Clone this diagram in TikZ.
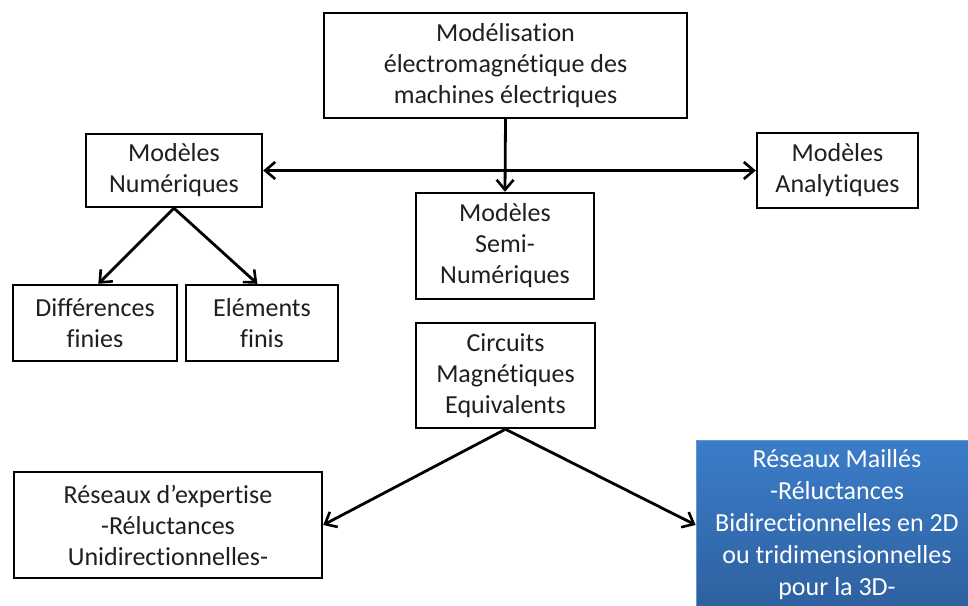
\documentclass[tikz,border=0pt]{standalone}
\usepackage{fontspec}
\setmainfont{Carlito}[Ligatures={NoCommon}]
\usetikzlibrary{arrows.meta,calc}
\definecolor{bluetop}{HTML}{3B7DC9}
\definecolor{bluebot}{HTML}{2E609F}
\tikzset{
  box/.style={draw=black, line width=2.4pt, fill=white, inner sep=0pt, align=center,
    font=\fontsize{26}{31}\selectfont, text=black!88},
  bluebox/.style={inner sep=0pt, align=center, top color=bluetop, bottom color=bluebot,
    draw=bluetop!80!white, line width=0.8pt,
    font=\fontsize{26}{32}\selectfont, text=white},
  conn/.style={line width=2.8pt, -{Straight Barb[length=10pt,width=17pt,line width=2.6pt]}},
  conn2/.style={line width=2.8pt, {Straight Barb[length=10pt,width=17pt,line width=2.6pt]}-{Straight Barb[length=10pt,width=17pt,line width=2.6pt]}}
}
\begin{document}
\begin{tikzpicture}[x=1pt,y=-1pt]
\useasboundingbox (0,0) rectangle (968,605);
\clip (0,0) rectangle (968,605);
\node[box, minimum width=363pt, minimum height=105pt] (top) at (505.5,65.5)
  {Modélisation\\électromagnétique des\\machines électriques};
\node[box, minimum width=176pt, minimum height=73pt] (num) at (174,170.5)
  {Modèles\\Numériques};
\node[box, minimum width=161pt, minimum height=75pt] (ana) at (837.5,170.5)
  {Modèles\\Analytiques};
\node[box, minimum width=178pt, minimum height=106pt] (semi) at (505,246)
  {Modèles\\Semi-\\Numériques};
\node[box, minimum width=164pt, minimum height=76pt] (diff) at (95,323)
  {Différences\\finies};
\node[box, minimum width=152pt, minimum height=76pt] (ele) at (262,323)
  {Eléments\\finis};
\node[box, minimum width=179pt, minimum height=105pt] (circ) at (505.5,375.5)
  {Circuits\\Magnétiques\\Equivalents};
\node[box, minimum width=308pt, minimum height=106pt] (exp) at (168,525)
  {Réseaux d’expertise\\-Réluctances\\Unidirectionnelles-};
\node[bluebox, minimum width=282pt, minimum height=170pt] (mail) at (837,525)
  {Réseaux Maillés\\-Réluctances\\Bidirectionnelles en 2D\\ou tridimensionnelles\\pour la 3D-};
\draw[conn] (top.south) -- (semi.north);
\draw[conn2] (num.east) -- (ana.west);
\draw[conn] (num.south) -- ($(diff.north west)!0.52!(diff.north east)$);
\draw[conn] (num.south) -- ($(ele.north west)!0.47!(ele.north east)$);
\draw[conn] (circ.south) -- (exp.east);
\draw[conn] (circ.south) -- (mail.west);
\end{tikzpicture}
\end{document}
